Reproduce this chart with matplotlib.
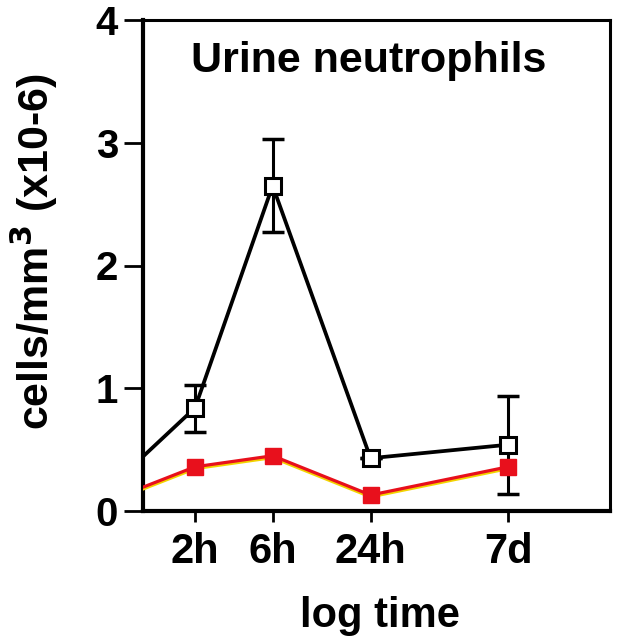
import numpy as np
import matplotlib.pyplot as plt
import matplotlib.patheffects as pe

plt.rcParams['font.family'] = ['Liberation Sans', 'DejaVu Sans']
plt.rcParams['font.weight'] = 'bold'
plt.rcParams['mathtext.default'] = 'bf'

# time in hours (first point is the baseline, off the left edge)
hours = [0.9, 2, 6, 24, 168]
tick_hours = [2, 6, 24, 168]
tick_labels = ['2h', '6h', '24h', '7d']

black_vals = [0.41, 0.84, 2.65, 0.43, 0.54]
black_err_hi = [0, 0.19, 0.38, 0, 0.40]
black_err_lo = [0, 0.20, 0.38, 0, 0.40]
red_vals = [0.18, 0.36, 0.45, 0.13, 0.36]

fig = plt.figure(figsize=(6.4, 6.4), dpi=100)
ax = fig.add_axes([143/640, 1-511/640, 467/640, 491/640])

# error bars on the measured points only
ax.errorbar(hours[1:], black_vals[1:], yerr=[black_err_lo[1:], black_err_hi[1:]],
            fmt='none', ecolor='black', elinewidth=2.2, capsize=8, capthick=2.5,
            zorder=2)
ax.plot(hours, red_vals, color='#e8101c', lw=2.3, zorder=3,
        path_effects=[pe.Stroke(offset=(0, -1.2), linewidth=2.5, foreground='#f2d400'),
                      pe.Normal()])
ax.plot(hours[1:], red_vals[1:], ls='none', marker='s', ms=12,
        color='#e8101c', mec='#e8101c', zorder=4)
ax.plot(hours, black_vals, color='black', lw=2.7, zorder=5)
ax.plot(hours[1:], black_vals[1:], ls='none', marker='s', ms=11,
        mfc='white', mec='black', mew=2.2, zorder=6)

ax.set_xscale('log')
ax.set_xlim(0.958, 711)
ax.set_ylim(0, 4)
ax.set_xticks(tick_hours)
ax.set_xticklabels(tick_labels)
ax.minorticks_off()
ax.set_yticks([0, 1, 2, 3, 4])

for s in ['left', 'bottom']:
    ax.spines[s].set_linewidth(3)
for s in ['top', 'right']:
    ax.spines[s].set_linewidth(2.2)
ax.tick_params(axis='x', direction='out', length=8, width=2, labelsize=30, pad=7)
ax.tick_params(axis='y', direction='out', length=14, width=2, labelsize=29, pad=4)

fig.text(369/640, 1-72/640, 'Urine neutrophils', ha='center', va='baseline',
         fontsize=31, fontweight='bold')
fig.text(34/640, 1-251/640, 'cells/mm$^3$ (x10-6)', rotation=90,
         ha='center', va='center', fontsize=31, fontweight='bold')
fig.text(380/640, 1-627/640, 'log time', ha='center', va='baseline',
         fontsize=30, fontweight='bold')

fig.savefig('out.png', dpi=100)
